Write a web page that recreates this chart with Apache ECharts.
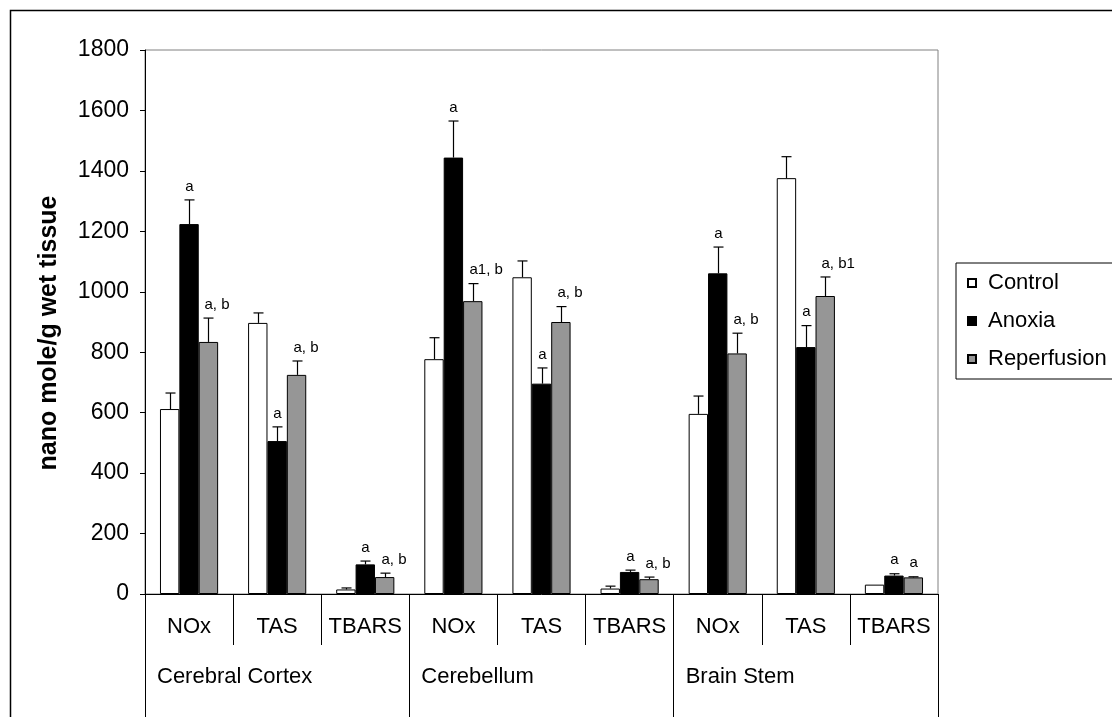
<!DOCTYPE html>
<html>
<head>
<meta charset="utf-8">
<script src="https://cdn.jsdelivr.net/npm/echarts@6/dist/echarts.min.js"></script>
<style>
html,body{margin:0;padding:0;background:#fff;}
#chart{width:1112px;height:717px;}
</style>
</head>
<body>
<div id="chart"></div>
<script>
// ---- data ----
const subCategories = ['NOx', 'TAS', 'TBARS', 'NOx', 'TAS', 'TBARS', 'NOx', 'TAS', 'TBARS'];
const groups = ['Cerebral Cortex', 'Cerebellum', 'Brain Stem'];
const seriesNames = ['Control', 'Anoxia', 'Reperfusion'];
const control = [612, 897, 15, 777, 1048, 18, 596, 1376, 31];
const anoxia = [1224, 506, 98, 1444, 696, 73, 1061, 817, 61];
const reperfusion = [834, 725, 56, 969, 900, 49, 796, 986, 55];
const controlErr = [53, 33, 5, 71, 54, 8, 59, 71, 0];
const anoxiaErr = [80, 47, 11, 121, 52, 6, 87, 71, 6];
const reperfusionErr = [79, 46, 13, 58, 51, 7, 67, 63, 2];
const controlMarks = ['', '', '', '', '', '', '', '', ''];
const anoxiaMarks = ['a', 'a', 'a', 'a', 'a', 'a', 'a', 'a', 'a'];
const reperfusionMarks = ['a, b', 'a, b', 'a, b', 'a1, b', 'a, b', 'a, b', 'a, b', 'a, b1', 'a'];
const yTicks = { min: 0, max: 1800, interval: 200 };

const FONT = 'Liberation Sans, Arial, sans-serif';
const CAT_GAP = 0.34;

const chart = echarts.init(document.getElementById('chart'));

function errSeries(sIdx, values, errs, marks, markAlign) {
  return {
    type: 'custom',
    name: seriesNames[sIdx] + ' err',
    xAxisIndex: 0,
    yAxisIndex: 0,
    z: 5,
    silent: true,
    data: values.map((v, i) => [i, v, v + errs[i]]),
    renderItem: function (params, api) {
      const i = api.value(0);
      const base = api.coord([i, api.value(1)]);
      const top = api.coord([i, api.value(2)]);
      const catW = api.size([1, 0])[0];
      const barW = catW * (1 - CAT_GAP) / 3;
      const x = Math.round(base[0] + (sIdx - 1) * barW) + 0.5;
      const children = [];
      const errPx = base[1] - top[1];
      if (errPx > 0.5) {
        children.push({
          type: 'line',
          shape: { x1: x, y1: base[1], x2: x, y2: top[1] },
          style: { stroke: '#000', lineWidth: 1.2 }
        });
        children.push({
          type: 'line',
          shape: { x1: x - 5, y1: top[1], x2: x + 5, y2: top[1] },
          style: { stroke: '#000', lineWidth: 1.2 }
        });
      }
      const m = marks[params.dataIndex];
      if (m) {
        children.push({
          type: 'text',
          style: {
            text: m,
            x: markAlign === 'left' ? x - 4 : x,
            y: top[1] - 6,
            align: markAlign,
            verticalAlign: 'bottom',
            font: '15px ' + FONT,
            fill: '#000'
          }
        });
      }
      return { type: 'group', children: children };
    }
  };
}

const barStyle = [
  { color: '#ffffff', borderColor: '#000', borderWidth: 1 },
  { color: '#000000', borderColor: '#000', borderWidth: 1 },
  { color: '#969696', borderColor: '#000', borderWidth: 1 }
];

const option = {
  animation: false,
  backgroundColor: '#fff',
  textStyle: { fontFamily: FONT, color: '#000' },
  grid: {
    left: 145, right: 174, top: 50, bottom: 123,
    show: true, borderColor: '#808080', borderWidth: 1,
    containLabel: false, outerBoundsMode: 'none'
  },
  legend: {
    orient: 'vertical',
    left: 956, top: 263,
    data: seriesNames,
    icon: 'rect',
    itemWidth: 8, itemHeight: 8,
    itemGap: 16,
    padding: [9, 40, 9, 11],
    borderColor: '#000', borderWidth: 1,
    backgroundColor: '#fff',
    textStyle: { fontSize: 22, fontFamily: FONT, color: '#000', padding: [0, 0, 0, 7] }
  },
  xAxis: [
    {
      type: 'category',
      data: subCategories,
      position: 'bottom',
      axisLine: { show: true, lineStyle: { color: '#000', width: 1 } },
      axisTick: { show: true, length: 51, lineStyle: { color: '#000', width: 1 } },
      axisLabel: { fontSize: 22, color: '#000', margin: 22, fontFamily: FONT, interval: 0 },
      splitLine: { show: false }
    },
    {
      type: 'value',
      min: 0, max: 9, interval: 3,
      position: 'bottom',
      axisLine: { show: false },
      axisTick: { show: true, length: 123, lineStyle: { color: '#000', width: 1 } },
      axisLabel: {
        fontSize: 22, color: '#000', margin: 72, fontFamily: FONT, align: 'left',
        padding: [0, 0, 0, 12],
        formatter: function (v) { return groups[v / 3] || ''; }
      },
      splitLine: { show: false }
    }
  ],
  yAxis: {
    type: 'value',
    min: yTicks.min, max: yTicks.max, interval: yTicks.interval,
    name: 'nano mole/g wet tissue',
    nameLocation: 'middle',
    nameGap: 83,
    nameRotate: 90,
    nameTextStyle: { fontSize: 25, fontWeight: 'bold', color: '#000', fontFamily: FONT, padding: [0, 22, 0, 0] },
    axisLine: { show: true, lineStyle: { color: '#000', width: 1 } },
    axisTick: { show: true, inside: false, length: 5, lineStyle: { color: '#000' } },
    axisLabel: { fontSize: 23, color: '#000', margin: 16, fontFamily: FONT, formatter: function (v) { return String(v); } },
    splitLine: { show: false }
  },
  series: [
    { type: 'bar', name: seriesNames[0], data: control, barGap: '0%', barCategoryGap: (CAT_GAP * 100) + '%', itemStyle: barStyle[0] },
    { type: 'bar', name: seriesNames[1], data: anoxia, barGap: '0%', barCategoryGap: (CAT_GAP * 100) + '%', itemStyle: barStyle[1] },
    { type: 'bar', name: seriesNames[2], data: reperfusion, barGap: '0%', barCategoryGap: (CAT_GAP * 100) + '%', itemStyle: barStyle[2] },
    errSeries(0, control, controlErr, controlMarks, 'center'),
    errSeries(1, anoxia, anoxiaErr, anoxiaMarks, 'center'),
    errSeries(2, reperfusion, reperfusionErr, reperfusionMarks, 'left')
  ],
  graphic: [
    {
      type: 'rect',
      silent: true,
      z: 100,
      shape: { x: 10.5, y: 10.5, width: 1300, height: 900 },
      style: { fill: 'none', stroke: '#000', lineWidth: 1.5 }
    }
  ]
};

chart.setOption(option);
</script>
</body>
</html>
